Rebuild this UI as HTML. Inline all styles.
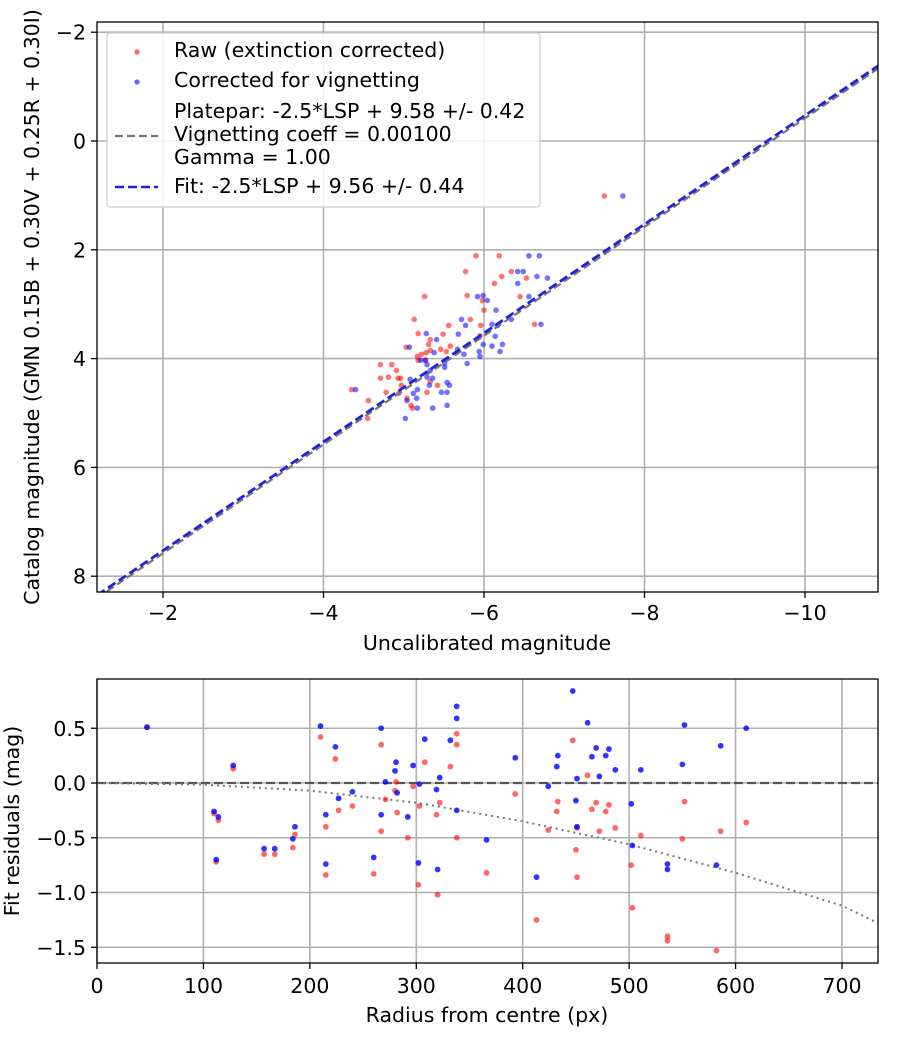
<!DOCTYPE html>
<html><head><meta charset="utf-8">
<style>
body{margin:0;background:#fff;}
svg{display:block;font-family:"DejaVu Sans","Liberation Sans",sans-serif;}
</style></head>
<body>
<svg id="chart" width="900" height="1050" viewBox="0 0 900 1050"></svg>
<script>
// ---- Top chart data ----
const redX=[-5.90,-6.19,-5.77,-6.34,-6.13,-6.22,-6.53,-5.26,-5.79,-6.45,-5.98,-6.00,-5.13,-5.83,-5.56,-5.96,-6.63,-5.18,-5.49,-5.33,-5.31,-5.03,-5.58,-5.46,-5.53,-5.17,-5.22,-5.28,-5.33,-4.71,-4.85,-4.91,-4.71,-4.81,-4.93,-4.96,-4.97,-4.35,-4.78,-4.94,-5.29,-5.42,-4.56,-5.04,-5.09,-5.11,-4.55,-5.95,-5.33,-5.18,-5.27,-7.50];
const redY=[2.11,2.11,2.40,2.40,2.62,2.49,2.52,2.86,2.84,2.86,2.93,3.11,3.28,3.28,3.39,3.39,3.37,3.54,3.55,3.65,3.74,3.79,3.77,3.83,3.87,3.96,3.92,3.89,3.85,4.11,4.11,4.22,4.36,4.34,4.36,4.36,4.49,4.57,4.62,4.64,4.62,4.49,4.77,4.73,4.86,4.91,5.10,3.58,4.42,4.03,4.03,1.01];
const blueX=[-6.56,-6.69,-6.42,-6.49,-6.66,-6.79,-6.42,-5.92,-5.99,-6.04,-6.15,-6.56,-6.34,-5.72,-5.77,-6.10,-6.17,-6.71,-5.28,-5.41,-5.68,-6.14,-5.07,-5.99,-6.10,-6.23,-5.67,-5.38,-5.94,-6.20,-5.75,-5.95,-5.79,-5.29,-5.51,-5.51,-5.21,-5.27,-5.33,-5.08,-5.29,-5.36,-5.32,-5.54,-5.57,-4.40,-5.17,-5.12,-5.47,-5.54,-5.16,-5.04,-5.17,-5.36,-5.54,-5.02,-7.73];
const blueY=[2.11,2.11,2.40,2.40,2.49,2.52,2.62,2.86,2.84,2.93,3.11,2.86,3.28,3.28,3.39,3.37,3.39,3.37,3.54,3.65,3.55,3.59,3.79,3.74,3.77,3.74,3.83,3.89,3.87,3.87,3.92,3.96,4.09,4.11,4.16,4.09,4.03,4.03,4.22,4.38,4.34,4.36,4.49,4.44,4.49,4.57,4.57,4.64,4.62,4.62,4.73,4.77,4.91,4.91,4.86,5.10,1.01];
const fitSlope=1.0, fitIntercept=9.53;
const topXTicks=[-2,-4,-6,-8,-10];
const topYTicks=[-2,0,2,4,6,8];
// ---- Bottom chart data ----
const resR=[47,110,114,128,112,157,167,184,186,210,224,215,215,227,240,260,267,267,271,281,280,282,292,297,303,302,308,320,319,322,332,338,338,338,366,393,413,424,432,433,447,450,451,451,461,465,469,472,478,481,487,502,503,511,536,536,550,552,582,586,610];
const resBlue=[0.51,-0.26,-0.31,0.16,-0.70,-0.60,-0.60,-0.51,-0.40,0.52,0.33,-0.29,-0.74,-0.14,-0.08,-0.68,0.50,-0.29,0.01,0.19,0.11,-0.09,-0.31,0.16,-0.01,-0.73,0.40,-0.79,-0.06,0.05,0.39,0.70,0.59,-0.25,-0.52,0.23,-0.86,-0.03,0.15,0.25,0.84,-0.16,-0.40,0.04,0.55,0.24,0.32,0.06,0.25,0.31,0.12,-0.19,-0.57,0.12,-0.74,-0.79,0.17,0.53,-0.75,0.34,0.50];
const resRed=[0.51,-0.28,-0.34,0.13,-0.72,-0.65,-0.65,-0.59,-0.47,0.42,0.22,-0.40,-0.84,-0.25,-0.21,-0.83,0.35,-0.44,-0.15,0.01,-0.07,-0.27,-0.50,-0.03,-0.21,-0.93,0.19,-1.02,-0.29,-0.18,0.15,0.45,0.35,-0.50,-0.82,-0.10,-1.25,-0.43,-0.26,-0.17,0.39,-0.61,-0.86,-0.41,0.07,-0.24,-0.18,-0.44,-0.26,-0.20,-0.41,-0.75,-1.14,-0.48,-1.40,-1.44,-0.51,-0.17,-1.53,-0.44,-0.36];
const vigR=[0,100,200,300,400,500,600,700,734];
const vigY=[0,-0.015,-0.07,-0.18,-0.35,-0.56,-0.82,-1.12,-1.28];
const botXTicks=[0,100,200,300,400,500,600,700];
const botYTicks=[0.5,0.0,-0.5,-1.0,-1.5];
const botYLabels=["0.5","0.0","\u22120.5","\u22121.0","\u22121.5"];

const FS=20.5;
const NS="http://www.w3.org/2000/svg";
const svg=document.getElementById('chart');
function mk(tag,attrs,parent){const e=document.createElementNS(NS,tag);for(const k in attrs)e.setAttribute(k,attrs[k]);(parent||svg).appendChild(e);return e;}
function fmt(v){return v<0?'\u2212'+Math.abs(v):String(v);}

// top axes
const T={l:97,r:878,t:22,b:592};
const tx=v=>163+(-2-v)*80.25;
const ty=v=>141+v*54.4;
const gTop=mk('g',{});


const clipT=mk('clipPath',{id:'ct'},gTop);mk('rect',{x:T.l,y:T.t,width:T.r-T.l,height:T.b-T.t},clipT);
topXTicks.forEach(v=>{const x=tx(v);
 const gl=mk('line',{x1:x,x2:x,y1:T.t,y2:T.b,stroke:'#b0b0b0','stroke-width':1.6},gTop);
 
 mk('line',{x1:x,x2:x,y1:T.b,y2:T.b+6,stroke:'#000','stroke-width':1.3},gTop);
 const t=mk('text',{x:x,y:T.b+28,'text-anchor':'middle','font-size':FS},gTop);t.textContent=fmt(v);
 });
topYTicks.forEach(v=>{const y=ty(v);
 const gl=mk('line',{x1:T.l,x2:T.r,y1:y,y2:y,stroke:'#b0b0b0','stroke-width':1.6},gTop);
 
 mk('line',{x1:T.l-6,x2:T.l,y1:y,y2:y,stroke:'#000','stroke-width':1.3},gTop);
 const t=mk('text',{x:T.l-11,y:y+7.5,'text-anchor':'end','font-size':FS},gTop);t.textContent=fmt(v);
 });
const pts=mk('g',{'clip-path':'url(#ct)'},gTop);
redX.forEach((v,i)=>{const c=mk('circle',{cx:tx(v),cy:ty(redY[i]),r:2.8,fill:'#ff0000','fill-opacity':0.55},pts);
 });
blueX.forEach((v,i)=>{const c=mk('circle',{cx:tx(v),cy:ty(blueY[i]),r:2.8,fill:'#0000ff','fill-opacity':0.55},pts);
 });
const xa=-1.18,xb=-10.91;
const pp=mk('line',{x1:tx(xa),y1:ty(fitSlope*xa+9.58),x2:tx(xb),y2:ty(fitSlope*xb+9.58),stroke:'#777','stroke-width':2.2,'stroke-dasharray':'8,4'},pts);

const fl=mk('line',{x1:tx(xa),y1:ty(fitSlope*xa+fitIntercept),x2:tx(xb),y2:ty(fitSlope*xb+fitIntercept),stroke:'#2222dd','stroke-width':2.8,'stroke-dasharray':'9,4'},pts);

mk('rect',{x:T.l,y:T.t,width:T.r-T.l,height:T.b-T.t,fill:'none',stroke:'#000','stroke-width':1.3},gTop);
let t=mk('text',{x:487,y:650,'text-anchor':'middle','font-size':FS},gTop);t.textContent='Uncalibrated magnitude';

t=mk('text',{x:0,y:0,'text-anchor':'middle','font-size':FS,transform:'translate(39,307) rotate(-90)'},gTop);t.textContent='Catalog magnitude (GMN 0.15B + 0.30V + 0.25R + 0.30I)';

// legend
const lg=mk('g',{},gTop);
mk('rect',{x:107,y:33,width:433,height:174,rx:3,fill:'#fff','fill-opacity':0.85,stroke:'#ccc','stroke-width':1.2},lg);
mk('circle',{cx:137,cy:52,r:2.6,fill:'#f00','fill-opacity':0.6},lg);
mk('circle',{cx:137,cy:82,r:2.6,fill:'#00f','fill-opacity':0.6},lg);
mk('line',{x1:115,x2:158,y1:136,y2:136,stroke:'#777','stroke-width':2.2,'stroke-dasharray':'8,4'},lg);
mk('line',{x1:115,x2:158,y1:187,y2:187,stroke:'#2222dd','stroke-width':2.6,'stroke-dasharray':'9,4'},lg);
[['Raw (extinction corrected)',57],['Corrected for vignetting',87],['Platepar: -2.5*LSP + 9.58 +/- 0.42',118],['Vignetting coeff = 0.00100',141],['Gamma = 1.00',164],['Fit: -2.5*LSP + 9.56 +/- 0.44',193]].forEach(a=>{
 const e=mk('text',{x:174,y:a[1],'font-size':FS},lg);e.textContent=a[0];
 });

// bottom axes
const B={l:97,r:878,t:679,b:963};
const bx=v=>97+v*1.0643;
const by=v=>783-v*109.5;
const gB=mk('g',{});


const clipB=mk('clipPath',{id:'cb'},gB);mk('rect',{x:B.l,y:B.t,width:B.r-B.l,height:B.b-B.t},clipB);
botXTicks.forEach(v=>{const x=bx(v);
 const gl=mk('line',{x1:x,x2:x,y1:B.t,y2:B.b,stroke:'#b0b0b0','stroke-width':1.6},gB);
 
 mk('line',{x1:x,x2:x,y1:B.b,y2:B.b+6,stroke:'#000','stroke-width':1.3},gB);
 const e=mk('text',{x:x,y:B.b+30,'text-anchor':'middle','font-size':FS},gB);e.textContent=String(v);
 });
botYTicks.forEach((v,i)=>{const y=by(v);
 const gl=mk('line',{x1:B.l,x2:B.r,y1:y,y2:y,stroke:'#b0b0b0','stroke-width':1.6},gB);
 
 mk('line',{x1:B.l-6,x2:B.l,y1:y,y2:y,stroke:'#000','stroke-width':1.3},gB);
 const e=mk('text',{x:B.l-11,y:y+7.5,'text-anchor':'end','font-size':FS},gB);e.textContent=botYLabels[i];
 });
const bp=mk('g',{'clip-path':'url(#cb)'},gB);
const zl=mk('line',{x1:B.l,x2:B.r,y1:by(0),y2:by(0),stroke:'#555','stroke-width':2.2,'stroke-dasharray':'9,4'},bp);

const vc=mk('polyline',{points:vigR.map((r,i)=>bx(r)+','+by(vigY[i])).join(' '),fill:'none',stroke:'#777','stroke-width':2,'stroke-dasharray':'2,4'},bp);

resR.forEach((r,i)=>{const c=mk('circle',{cx:bx(r),cy:by(resRed[i]),r:2.9,fill:'#ff0000','fill-opacity':0.6},bp);
 });
resR.forEach((r,i)=>{const c=mk('circle',{cx:bx(r),cy:by(resBlue[i]),r:2.9,fill:'#0000ff','fill-opacity':0.8},bp);
 });
mk('rect',{x:B.l,y:B.t,width:B.r-B.l,height:B.b-B.t,fill:'none',stroke:'#000','stroke-width':1.3},gB);
t=mk('text',{x:487,y:1022,'text-anchor':'middle','font-size':FS},gB);t.textContent='Radius from centre (px)';

t=mk('text',{x:0,y:0,'text-anchor':'middle','font-size':FS,transform:'translate(19,821) rotate(-90)'},gB);t.textContent='Fit residuals (mag)';

</script>
</body></html>
